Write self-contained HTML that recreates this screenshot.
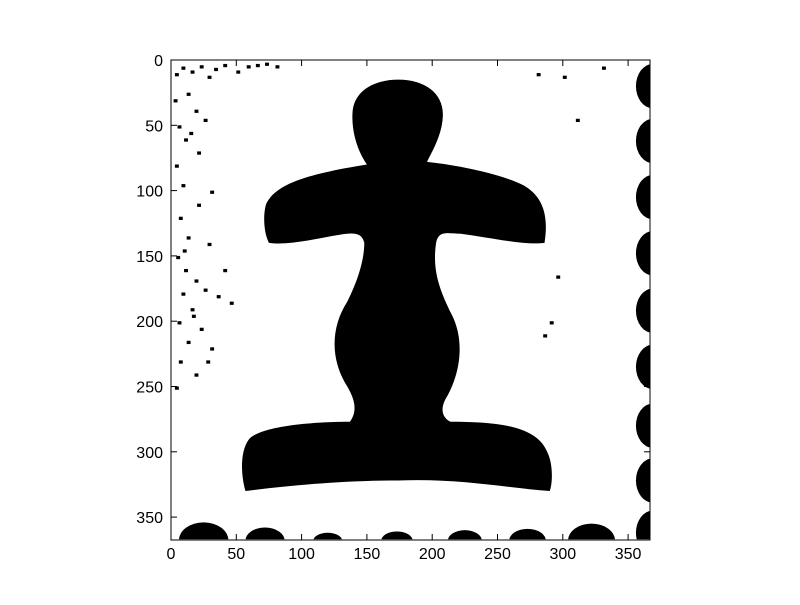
<!DOCTYPE html>
<html><head><meta charset="utf-8"><style>
body{margin:0;background:#fff;}
svg text{font-family:"Liberation Sans",sans-serif;font-size:16px;fill:#000;}
</style></head><body>
<svg width="800" height="600">
<rect width="800" height="600" fill="#fff"/>
<defs><clipPath id="c"><rect x="0" y="0" width="367" height="367"/></clipPath></defs>
<g id="img" transform="translate(171,60) scale(1.306)" clip-path="url(#c)">
  <rect width="367" height="367" fill="#fff"/>
  <path fill="#000" d="
   M174,15 C196,15 210,27 208,45 C207,58 200,70 196,78
   C215,80 250,86 270,96 C282,103 290,115 286,140
   C270,142 245,136 222,133 C212,133 205,130 203,140
   C200,160 205,175 215,195 C225,215 222,240 210,260
   C206,268 208,274 214,277 C250,277 280,280 288,300
   C293,310 292,325 290,330 C260,328 220,320 174,322
   C130,322 90,326 57,330 C54,320 52,300 60,290
   C70,280 110,277 137,277 C142,270 142,262 135,250
   C122,230 122,205 135,185 C145,165 148,150 148,140
   C146,132 140,132 128,134 C110,137 90,142 75,140
   C70,130 71,115 73,110 C80,96 100,88 150,80
   C143,70 138,55 139,40 C140,24 155,15 174,15 Z"/>
  <g id="perf"></g>
  <g id="noise"></g>
</g>
<rect x="171" y="60" width="479" height="480" fill="none" stroke="#000" stroke-width="1"/>
<g id="axes"></g>
</svg>
<script>
const xTicks=[0,50,100,150,200,250,300,350];
const yTicks=[0,50,100,150,200,250,300,350];
const rightBumps=[20,62,105,148,192,235,280,322,362];
const bottomBumps=[[25,14],[72,10],[120,6],[173,7],[225,8],[273,9],[322,13]];
const ox=171,oy=60,k=1.306;
const sx=v=>ox+v*k, sy=v=>oy+v*k;
const NS="http://www.w3.org/2000/svg";
function mk(t,a,p){const e=document.createElementNS(NS,t);for(const q in a)e.setAttribute(q,a[q]);p.appendChild(e);return e;}
const perf=document.getElementById('perf');
rightBumps.forEach(y=>{const e=mk('ellipse',{cx:369,cy:y,rx:13,ry:17,fill:'#000'},perf);

});
bottomBumps.forEach(b=>{const e=mk('ellipse',{cx:b[0],cy:368,rx:b[1]+5,ry:b[1],fill:'#000'},perf);

});
const noise=document.getElementById('noise');
const specks=[[3,10],[8,5],[15,8],[22,4],[28,12],[33,6],[40,3],[50,8],[58,4],[65,3],[72,2],[80,4],[12,25],[18,38],[5,50],[10,60],[25,45],[14,55],[3,80],[8,95],[20,110],[6,120],[12,135],[28,140],[4,150],[10,160],[18,168],[25,175],[8,178],[35,180],[15,190],[5,200],[22,205],[12,215],[30,220],[6,230],[18,240],[3,250],[40,160],[45,185],[30,100],[20,70],[2,30],[9,145],[16,195],[27,230],[280,10],[300,12],[330,5],[310,45],[295,165],[290,200],[285,210]];
specks.forEach(s=>{const e=mk('rect',{x:s[0],y:s[1],width:3,height:2.5,fill:'#000'},noise);

});
const ax=document.getElementById('axes');
xTicks.forEach(v=>{const x=sx(v);
mk('line',{x1:x,x2:x,y1:540,y2:534,stroke:'#000'},ax);mk('line',{x1:x,x2:x,y1:60,y2:66,stroke:'#000'},ax);
const t=mk('text',{x:x,y:559,'text-anchor':'middle'},ax);t.textContent=v;

});
yTicks.forEach(v=>{const y=sy(v);
mk('line',{x1:171,x2:177,y1:y,y2:y,stroke:'#000'},ax);mk('line',{x1:650,x2:644,y1:y,y2:y,stroke:'#000'},ax);
const t=mk('text',{x:163,y:y+6,'text-anchor':'end'},ax);t.textContent=v;

});
</script>
</body></html>
